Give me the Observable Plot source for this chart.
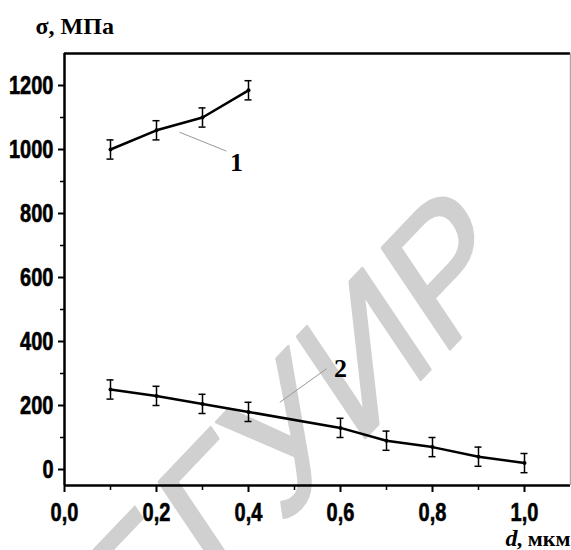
<!DOCTYPE html>
<html><head><meta charset="utf-8">
<script src="https://cdn.jsdelivr.net/npm/d3@7"></script>
<script src="https://cdn.jsdelivr.net/npm/@observablehq/plot@0.6"></script>
<style>body{margin:0;background:#fff}</style>
</head><body><div id="chart"></div>
<script>
// Curve 1
const d1 = [0.1, 0.2, 0.3, 0.4];
const s1 = [1000, 1060, 1100, 1185];
const e1 = [30, 30, 30, 30];
// Curve 2
const d2 = [0.1, 0.2, 0.3, 0.4, 0.6, 0.7, 0.8, 0.9, 1.0];
const s2 = [250, 230, 205, 180, 130, 90, 70, 40, 20];
const e2 = [30, 30, 30, 30, 30, 30, 30, 30, 30];
// Axes
const xDomain = [0, 1.1];
const yDomain = [-50, 1300];
const xTicks = [0, 0.2, 0.4, 0.6, 0.8, 1.0];
const xMinor = [0.1, 0.3, 0.5, 0.7, 0.9];
const yTicks = [0, 200, 400, 600, 800, 1000, 1200];
const yMinor = [100, 300, 500, 700, 900, 1100];
// Curve labels and leaders
const curveLabels = ["1", "2"];
const labelX = [0.374, 0.6];
const labelY = [934, 288];
const leadX1 = [0.25, 0.468], leadY1 = [1054, 210];
const leadX2 = [0.352, 0.57], leadY2 = [995, 315];
// Watermark
const wmText = ["БГУИР"];
const wmX = [0.507], wmY = [128];

const t1 = d1.map((d, i) => ({d, s: s1[i], e: e1[i]}));
const t2 = d2.map((d, i) => ({d, s: s2[i], e: e2[i]}));
const all = t1.concat(t2);
const labs = curveLabels.map((t, i) => ({t, x: labelX[i], y: labelY[i]}));
const leads = leadX1.map((x, i) => ({x1: x, y1: leadY1[i], x2: leadX2[i], y2: leadY2[i]}));
const wm = wmText.map((t, i) => ({t, x: wmX[i], y: wmY[i]}));

const sans = "'Liberation Sans', Arial, sans-serif";
const serif = "'Liberation Serif', 'DejaVu Serif', serif";
const fmt = d => d.toFixed(1).replace(".", ",");
const blank = () => "";

const chart = Plot.plot({
  width: 571, height: 550,
  marginLeft: 64, marginRight: 1, marginTop: 53, marginBottom: 65,
  x: {domain: xDomain}, y: {domain: yDomain},
  style: {background: "#fff", color: "#000", overflow: "visible"},
  marks: [
    Plot.text(wm, {x: "x", y: "y", text: "t", rotate: -40, fontSize: 192, fontFamily: sans, fill: "#d0d0d0", stroke: "#d0d0d0", strokeWidth: 3, textAnchor: "middle", lineAnchor: "middle"}),
    Plot.axisY(yTicks, {anchor: "left", tickSize: 6, tickPadding: 5, strokeWidth: 2, fontSize: 25, fontWeight: "bold", fontFamily: sans, tickFormat: d => String(d), label: null}),
    Plot.axisY(yMinor, {anchor: "left", tickSize: 4, strokeWidth: 1.5, tickFormat: blank, label: null}),
    Plot.axisX(xTicks, {anchor: "bottom", tickSize: 7, tickPadding: 10, strokeWidth: 2, fontSize: 26, fontWeight: "bold", fontFamily: sans, tickFormat: fmt, label: null}),
    Plot.axisX(xMinor, {anchor: "bottom", tickSize: 5, strokeWidth: 1.5, tickFormat: blank, label: null}),
    Plot.ruleX([xDomain[0]], {strokeWidth: 2.5}),
    Plot.ruleY([yDomain[0]], {strokeWidth: 2.5}),
    Plot.ruleY([yDomain[1]], {strokeWidth: 2.5}),
    Plot.ruleX([xDomain[1]], {stroke: "#aaa", strokeWidth: 1.5}),
    Plot.link(leads, {x1: "x1", y1: "y1", x2: "x2", y2: "y2", stroke: "#999", strokeWidth: 1}),
    Plot.ruleX(all, {x: "d", y1: r => r.s - r.e, y2: r => r.s + r.e, strokeWidth: 1.5}),
    Plot.ruleY(all, {y: r => r.s + r.e, x1: "d", x2: "d", insetLeft: -3.5, insetRight: -3.5, strokeWidth: 1.5}),
    Plot.ruleY(all, {y: r => r.s - r.e, x1: "d", x2: "d", insetLeft: -3.5, insetRight: -3.5, strokeWidth: 1.5}),
    Plot.line(t1, {x: "d", y: "s", strokeWidth: 2.5}),
    Plot.line(t2, {x: "d", y: "s", strokeWidth: 2.5}),
    Plot.dot(all, {x: "d", y: "s", r: 2, fill: "#000"}),
    Plot.text(labs, {x: "x", y: "y", text: "t", fontSize: 26, fontWeight: "bold", fontFamily: serif, textAnchor: "middle", lineAnchor: "bottom"}),
    Plot.text(["σ, МПа"], {frameAnchor: "top-left", dx: -29, dy: -20, textAnchor: "start", lineAnchor: "bottom", fontSize: 24, fontWeight: "bold", fontFamily: serif}),
    Plot.text([", мкм"], {frameAnchor: "bottom-right", dx: 0, dy: 60, textAnchor: "end", lineAnchor: "bottom", fontSize: 22, fontWeight: "bold", fontFamily: serif}),
    Plot.text(["d"], {frameAnchor: "bottom-right", dx: -53, dy: 60, textAnchor: "end", lineAnchor: "bottom", fontSize: 24, fontWeight: "bold", fontStyle: "italic", fontFamily: serif})
  ]
});
document.getElementById("chart").appendChild(chart);

// Condense and embolden the tick labels (narrow heavy sans look)
function condense(selector, k) {
  chart.querySelectorAll(selector).forEach(el => {
    const L = el.getComputedTextLength();
    if (L > 0) {
      el.setAttribute("textLength", (L * k).toFixed(1));
      el.setAttribute("lengthAdjust", "spacingAndGlyphs");
      el.setAttribute("stroke", "#000");
      el.setAttribute("stroke-width", "0.6");
    }
  });
}
condense('g[aria-label="y-axis tick label"] text', 0.8);
condense('g[aria-label="x-axis tick label"] text', 0.77);
// Squeeze the watermark horizontally
const wmNode = chart.querySelector('g[aria-label="text"] text');
if (wmNode) {
  const tr = wmNode.getAttribute("transform") || "";
  wmNode.setAttribute("transform", tr.replace("rotate(", "scale(0.8,1) rotate("));
}
</script>
</body></html>
